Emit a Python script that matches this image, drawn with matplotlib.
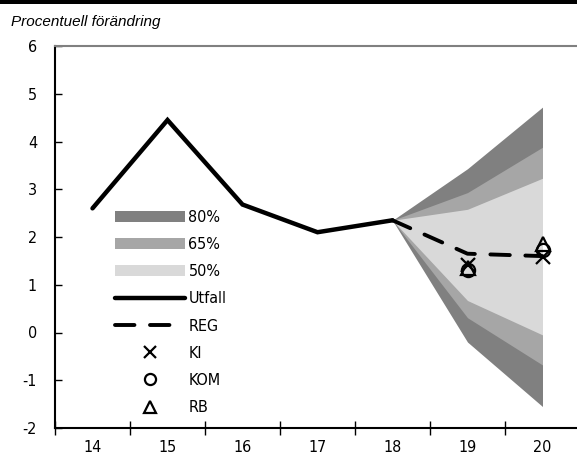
import matplotlib.pyplot as plt
from matplotlib.patches import Patch, Rectangle
from matplotlib.lines import Line2D

years = ['14', '15', '16', '17', '18', '19', '20']
utfall = [2.6, 4.45, 2.68, 2.1, 2.35]
reg = [2.35, 1.65, 1.6]

# fan chart bounds at 18, 19, 20
hi80 = [2.35, 3.43, 4.72]
lo80 = [2.35, -0.2, -1.55]
hi65 = [2.35, 2.93, 3.88]
lo65 = [2.35, 0.31, -0.68]
hi50 = [2.35, 2.58, 3.23]
lo50 = [2.35, 0.67, -0.05]

ki = [1.42, 1.58]
kom = [1.3, 1.73]
rb = [1.35, 1.86]

plt.rcParams['font.family'] = ['DejaVu Sans']
plt.rcParams['font.stretch'] = 'condensed'
plt.rcParams['axes.unicode_minus'] = False

fig = plt.figure(figsize=(5.77, 4.59), dpi=100)
W, H = 577, 459
ax = fig.add_axes([55 / W, (H - 428) / H, 525 / W, 382 / H])

fx = [4, 5, 6]
ax.fill_between(fx, lo80, hi80, color='#808080', lw=0)
ax.fill_between(fx, lo65, hi65, color='#a6a6a6', lw=0)
ax.fill_between(fx, lo50, hi50, color='#d9d9d9', lw=0)

ax.plot(range(5), utfall, color='black', lw=3.2, solid_joinstyle='miter',
        solid_capstyle='round')
ax.plot(fx, reg, color='black', lw=2.8, dashes=(5, 4), dash_capstyle='round')

mk = dict(color='black', ls='none', mfc='none', mew=1.6, ms=9.5)
ax.plot([5, 6], ki, marker='x', **mk)
ax.plot([5, 6], kom, marker='o', **mk)
ax.plot([5, 6], rb, marker='^', **mk)

ax.set_xlim(-0.5, 6.5)
ax.set_ylim(-2, 6)
ax.set_yticks(range(-2, 7))
ax.set_xticks([i - 0.5 for i in range(8)])
ax.set_xticklabels([])
ax.set_xticks(range(7), minor=True)
ax.set_xticklabels(years, minor=True)
ax.tick_params(axis='x', which='major', direction='inout', length=10,
               width=1)
ax.tick_params(axis='x', which='minor', length=0, pad=9, labelsize=11.5)
ax.tick_params(axis='y', direction='in', length=5, width=1, pad=13,
               labelsize=11.5)

ax.spines['right'].set_visible(False)
ax.spines['top'].set_color('#808080')
ax.spines['top'].set_linewidth(1.5)
ax.spines['left'].set_linewidth(1.5)
ax.spines['bottom'].set_linewidth(1.5)

lmk = dict(mk, ms=8)
handles = [
    Patch(color='#808080', lw=0),
    Patch(color='#a6a6a6', lw=0),
    Patch(color='#d9d9d9', lw=0),
    Line2D([], [], color='black', lw=3.2, solid_capstyle='round'),
    Line2D([], [], color='black', lw=2.8, dashes=(5, 4),
           dash_capstyle='round'),
    Line2D([], [], marker='x', **lmk),
    Line2D([], [], marker='o', **lmk),
    Line2D([], [], marker='^', **lmk),
]
labels = ['80%', '65%', '50%', 'Utfall', 'REG', 'KI', 'KOM', 'RB']
ax.legend(handles, labels, loc='upper left', frameon=False,
          bbox_to_anchor=(115 / W, (H - 210) / H), bbox_transform=fig.transFigure,
          fontsize=11.5, handlelength=4.4, handleheight=0.65,
          handletextpad=0.2, labelspacing=0.76, borderpad=0, borderaxespad=0)

fig.text(11 / W, 1 - 22 / H, 'Procentuell förändring', style='italic',
         family=['Liberation Sans', 'DejaVu Sans'], stretch='normal',
         fontsize=11, va='center')
fig.patches.append(Rectangle((0, 1 - 4 / H), 1, 4 / H, transform=fig.transFigure,
                             color='black', lw=0))

fig.savefig('out.png', dpi=100)
